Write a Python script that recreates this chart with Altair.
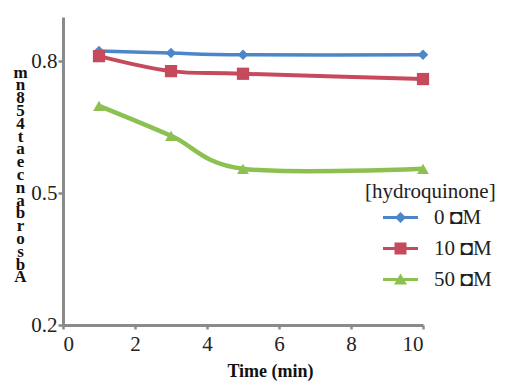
import altair as alt
import pandas as pd

times = [1, 3, 5, 10]
series = ["0 ◘M", "10 ◘M", "50 ◘M"]
abs_0 = [0.823, 0.818, 0.814, 0.814]
abs_10 = [0.811, 0.777, 0.771, 0.759]
abs_50 = [0.698, 0.630, 0.555, 0.555]
colors = ["#4a86c8", "#c64a5c", "#8cc152"]
y_ticks = [0.2, 0.5, 0.8]
x_ticks = [0, 2, 4, 6, 8, 10]
y_title = list("mn854taecnabrosbA")

rows = []
for name, vals in zip(series, [abs_0, abs_10, abs_50]):
    for t, v in zip(times, vals):
        rows.append({"time": t, "abs": v, "series": name})
df = pd.DataFrame(rows)

FONT = "Liberation Serif"
line_seg = "M0.75,-0.15L4.25,-0.15L4.25,0.15L0.75,0.15Z "
p_diamond = line_seg + "M2.5,-0.55L3.05,0L2.5,0.55L1.95,0Z"
p_square = line_seg + "M1.9,-0.6L3.1,-0.6L3.1,0.6L1.9,0.6Z"
p_tri = line_seg + "M2.5,-0.6L3.15,0.5L1.85,0.5Z"

axis_common = dict(
    grid=False, labelFont=FONT, titleFont=FONT, labelFontSize=21,
    labelColor="#222222", titleColor="#111111", titleFontWeight="bold",
    domainColor="#8a8a8a", domainWidth=3, tickColor="#8a8a8a", tickWidth=2.5,
)
x_enc = alt.X(
    "time:Q",
    scale=alt.Scale(domain=[0, 10], nice=False),
    axis=alt.Axis(
        values=x_ticks, title="Time (min)", titleFontSize=18,
        titleX=207, titleY=51, titleBaseline="alphabetic",
        tickSize=4, labelPadding=4, **axis_common,
    ),
)
y_enc = alt.Y(
    "abs:Q",
    scale=alt.Scale(domain=[0.2, 0.9], nice=False, zero=False),
    axis=alt.Axis(
        values=y_ticks, title=y_title, format=".1f",
        titleAngle=0, titleX=-43, titleY=47, titleAlign="center",
        titleBaseline="top", titleLineHeight=12.8, titleFontSize=17,
        tickSize=5, labelPadding=1, **axis_common,
    ),
)

layers = []
for name, col, shp, sz, sw in zip(series, colors, ["diamond", "square", "triangle-up"],
                                  [110, 150, 140], [3.5, 4, 4.5]):
    base = alt.Chart(df).transform_filter(alt.datum.series == name)
    layers.append(
        base.mark_line(strokeWidth=sw, interpolate="cardinal", color=col).encode(x=x_enc, y=y_enc)
    )
    layers.append(
        base.mark_point(filled=True, opacity=1, shape=shp, size=sz, color=col).encode(x=x_enc, y=y_enc)
    )

legend_kwargs = dict(
    title="[hydroquinone]", orient="none", legendX=302, legendY=164,
    padding=0, symbolSize=400, labelOffset=48, rowPadding=9,
    titlePadding=5, symbolStrokeWidth=0, symbolOpacity=1,
    labelFont=FONT, titleFont=FONT, labelFontSize=21, titleFontSize=21,
    titleFontWeight="normal", labelColor="#222222", titleColor="#222222",
)
legend_layer = alt.Chart(df).mark_point(filled=True, opacity=0).encode(
    x=x_enc, y=y_enc,
    color=alt.Color(
        "series:N", sort=series,
        scale=alt.Scale(domain=series, range=colors),
        legend=alt.Legend(**legend_kwargs),
    ),
    shape=alt.Shape(
        "series:N", sort=series,
        scale=alt.Scale(domain=series, range=[p_diamond, p_square, p_tri]),
        legend=alt.Legend(**legend_kwargs),
    ),
)
layers.append(legend_layer)

chart = (
    alt.layer(*layers)
    .properties(
        width=360, height=308,
        autosize=alt.AutoSizeParams(type="none"),
        padding={"left": 55, "top": 9, "right": 80, "bottom": 56},
        background="white",
    )
    .configure_view(stroke=None)
)

chart.save("out.html", embed_options={"renderer": "svg", "actions": False})
